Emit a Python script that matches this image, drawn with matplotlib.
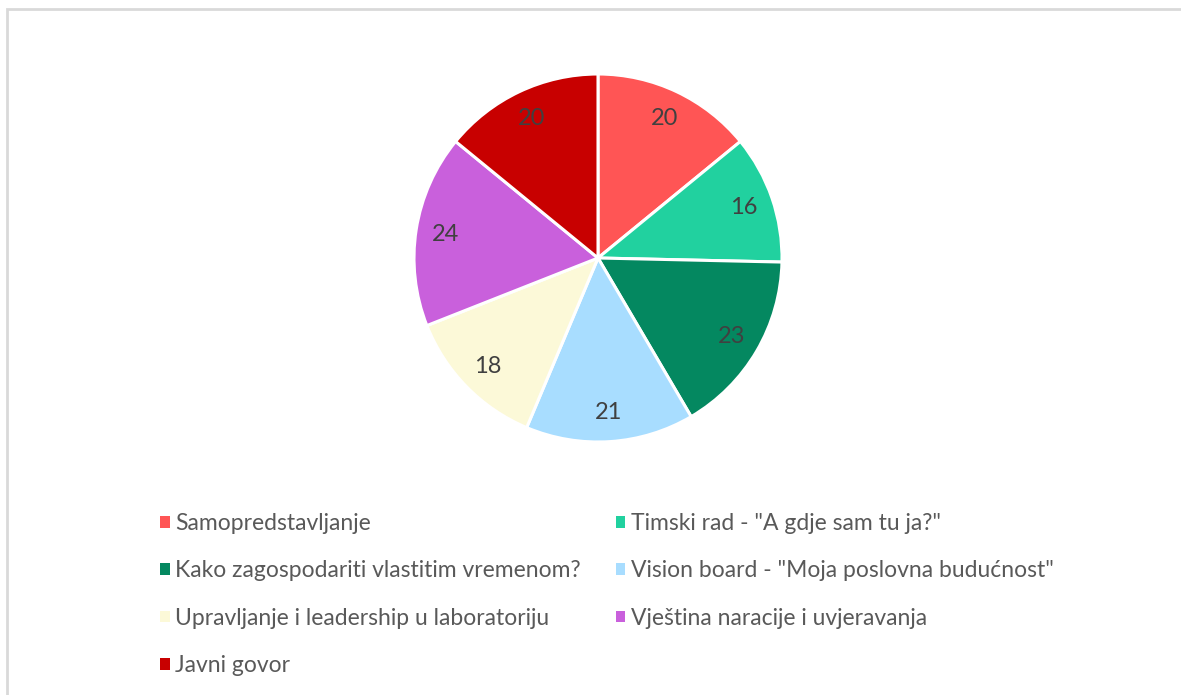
import matplotlib.pyplot as plt
from matplotlib.patches import Rectangle, Patch

# data
labels = ['Samopredstavljanje',
          'Timski rad - "A gdje sam tu ja?"',
          'Kako zagospodariti vlastitim vremenom?',
          'Vision board - "Moja poslovna budućnost"',
          'Upravljanje i leadership u laboratoriju',
          'Vještina naracije i uvjeravanja',
          'Javni govor']
values = [20, 16, 23, 21, 18, 24, 20]
colors = ['#FF5555', '#21D19F', '#048860', '#A8DDFF', '#FCF9D8', '#C960DC', '#C80000']

plt.rcParams['font.family'] = ['Lato', 'DejaVu Sans']

W, H = 1181, 695
fig = plt.figure(figsize=(W / 100, H / 100), dpi=100)

# light grey frame (only top and left visible in the crop)
fig.patches.append(Rectangle((7 / W, 0 - 0.05), 1.2, 1 - 9 / H + 0.05,
                             transform=fig.transFigure, fill=False,
                             edgecolor='#D9D9D9', linewidth=2))

cx, cy, r = 598, 258, 184
ax = fig.add_axes([(cx - r) / W, 1 - (cy + r) / H, 2 * r / W, 2 * r / H])

total = sum(values)
wedges, texts, autotexts = ax.pie(
    values, colors=colors, startangle=90, counterclock=False,
    autopct=lambda p: '%d' % round(p * total / 100), pctdistance=0.84,
    wedgeprops=dict(edgecolor='white', linewidth=2.2),
    textprops=dict(color='#404040', fontsize=17))
ax.set_xlim(-1, 1)
ax.set_ylim(-1, 1)
ax.set_aspect('equal')

# Excel fills legend row-wise; matplotlib fills column-wise, so reorder
order = [0, 2, 4, 6, 1, 3, 5]
handles = [Patch(facecolor=colors[i], edgecolor='none') for i in order]
leg = fig.legend(handles, [labels[i] for i in order], ncol=2,
                 loc='upper left', bbox_to_anchor=(160 / W, 1 - 513 / H),
                 frameon=False, fontsize=16.5, labelcolor='#595959',
                 handlelength=0.42, handleheight=0.42, handletextpad=0.24,
                 labelspacing=1.15, columnspacing=1.52, borderaxespad=0,
                 borderpad=0)

fig.savefig('out.png', dpi=100, facecolor='white')
